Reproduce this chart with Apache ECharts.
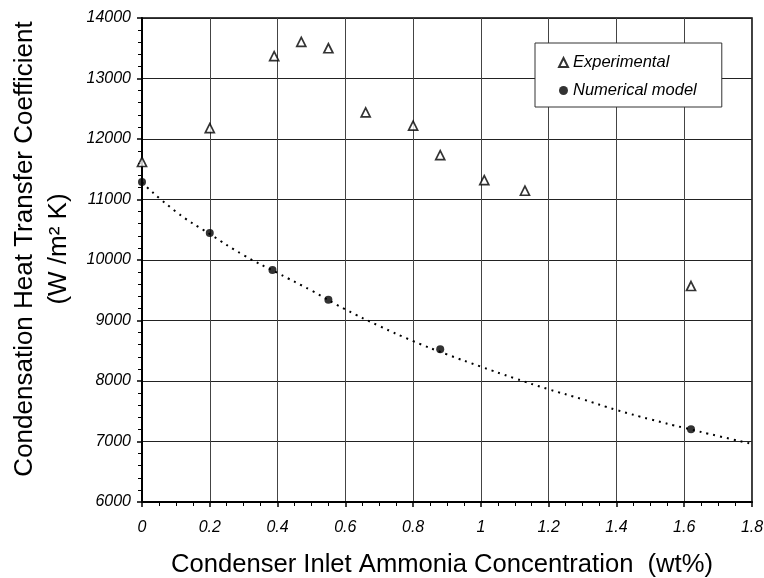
<!DOCTYPE html>
<html>
<head>
<meta charset="utf-8">
<script src="https://cdn.jsdelivr.net/npm/echarts@6/dist/echarts.min.js"></script>
<style>html,body{margin:0;padding:0;background:#fff}#c{width:764px;height:578px}</style>
</head>
<body>
<div id="c"></div>
<script>
const expX = [0, 0.2, 0.39, 0.47, 0.55, 0.66, 0.80, 0.88, 1.01, 1.13, 1.62];
const expY = [11620, 12180, 13370, 13605, 13500, 12440, 12220, 11735, 11320, 11145, 9570];
const numX = [0, 0.2, 0.385, 0.55, 0.88, 1.62];
const numY = [11290, 10446, 9835, 9344, 8525, 7202];
const curveX = [0, 0.1, 0.2, 0.3, 0.4, 0.5, 0.6, 0.7, 0.8, 0.9, 1.0, 1.1, 1.2, 1.3, 1.4, 1.5, 1.6, 1.7, 1.8];
const curveY = [11280, 10800, 10430, 10080, 9785, 9495, 9185, 8910, 8660, 8440, 8237, 8044, 7863, 7698, 7521, 7367, 7225, 7091, 6959];
const xTitle = 'Condenser Inlet Ammonia Concentration  (wt%)';
const yTitle = 'Condensation Heat Transfer Coefficient\n(W /m\u00B2 K)';
const legendNames = ['Experimental', 'Numerical model'];

const FONT = '"Liberation Sans", Arial, sans-serif';
const zip = (a, b) => a.map((v, i) => [v, b[i]]);

const chart = echarts.init(document.getElementById('c'), null, {renderer: 'canvas'});
chart.setOption({
  animation: false,
  backgroundColor: '#fff',
  textStyle: {fontFamily: FONT},
  grid: {left: 142, right: 12, top: 18, bottom: 76, containLabel: false, outerBoundsMode: 'none',
         show: true, borderColor: '#000', borderWidth: 1.5, backgroundColor: 'transparent'},
  legend: {
    data: legendNames,
    orient: 'vertical',
    left: 535, top: 43,
    padding: [11, 25, 8, 23],
    itemGap: 11,
    itemWidth: 9, itemHeight: 9,
    backgroundColor: '#fff',
    borderColor: '#333', borderWidth: 1,
    textStyle: {fontFamily: FONT, fontSize: 16.5, fontStyle: 'italic', color: '#000'}
  },
  xAxis: {
    type: 'value', min: 0, max: 1.8, interval: 0.2,
    name: xTitle, nameLocation: 'middle', nameGap: 50,
    nameTextStyle: {fontFamily: FONT, fontSize: 25.6, color: '#000', padding: [0, 10, 0, 0]},
    axisLine: {show: true, lineStyle: {color: '#000', width: 2}},
    axisTick: {show: true, length: 5, lineStyle: {color: '#000', width: 1.5}},
    minorTick: {show: true, splitNumber: 4, length: 4, lineStyle: {color: '#000', width: 1}},
    axisLabel: {fontFamily: FONT, fontSize: 16, fontStyle: 'italic', color: '#000', margin: 18},
    splitLine: {show: true, lineStyle: {color: '#444', width: 1}}
  },
  yAxis: {
    type: 'value', min: 6000, max: 14000, interval: 1000,
    name: yTitle, nameLocation: 'middle', nameGap: 66,
    nameTextStyle: {fontFamily: FONT, fontSize: 26, color: '#000', lineHeight: 34, padding: [0, 0, 0, 22]},
    axisLine: {show: true, lineStyle: {color: '#000', width: 2}},
    axisTick: {show: true, length: 5, lineStyle: {color: '#000', width: 1.5}},
    minorTick: {show: true, splitNumber: 5, length: 4, lineStyle: {color: '#000', width: 1}},
    axisLabel: {fontFamily: FONT, fontSize: 16, fontStyle: 'italic', color: '#000', margin: 11,
                formatter: v => String(v)},
    splitLine: {show: true, lineStyle: {color: '#222', width: 1}}
  },
  series: [
    {
      name: 'curve', type: 'line', data: zip(curveX, curveY), smooth: true,
      showSymbol: false, silent: true, z: 2,
      lineStyle: {color: '#000', width: 2, type: [2, 5]}
    },
    {
      name: legendNames[0], type: 'scatter', data: zip(expX, expY), z: 3,
      symbol: 'triangle', symbolSize: 9,
      itemStyle: {color: '#fff', borderColor: '#000', borderWidth: 1.7}
    },
    {
      name: legendNames[1], type: 'scatter', data: zip(numX, numY), z: 4,
      symbol: 'circle', symbolSize: 8,
      itemStyle: {color: '#000'}
    }
  ]
});
</script>
</body>
</html>
